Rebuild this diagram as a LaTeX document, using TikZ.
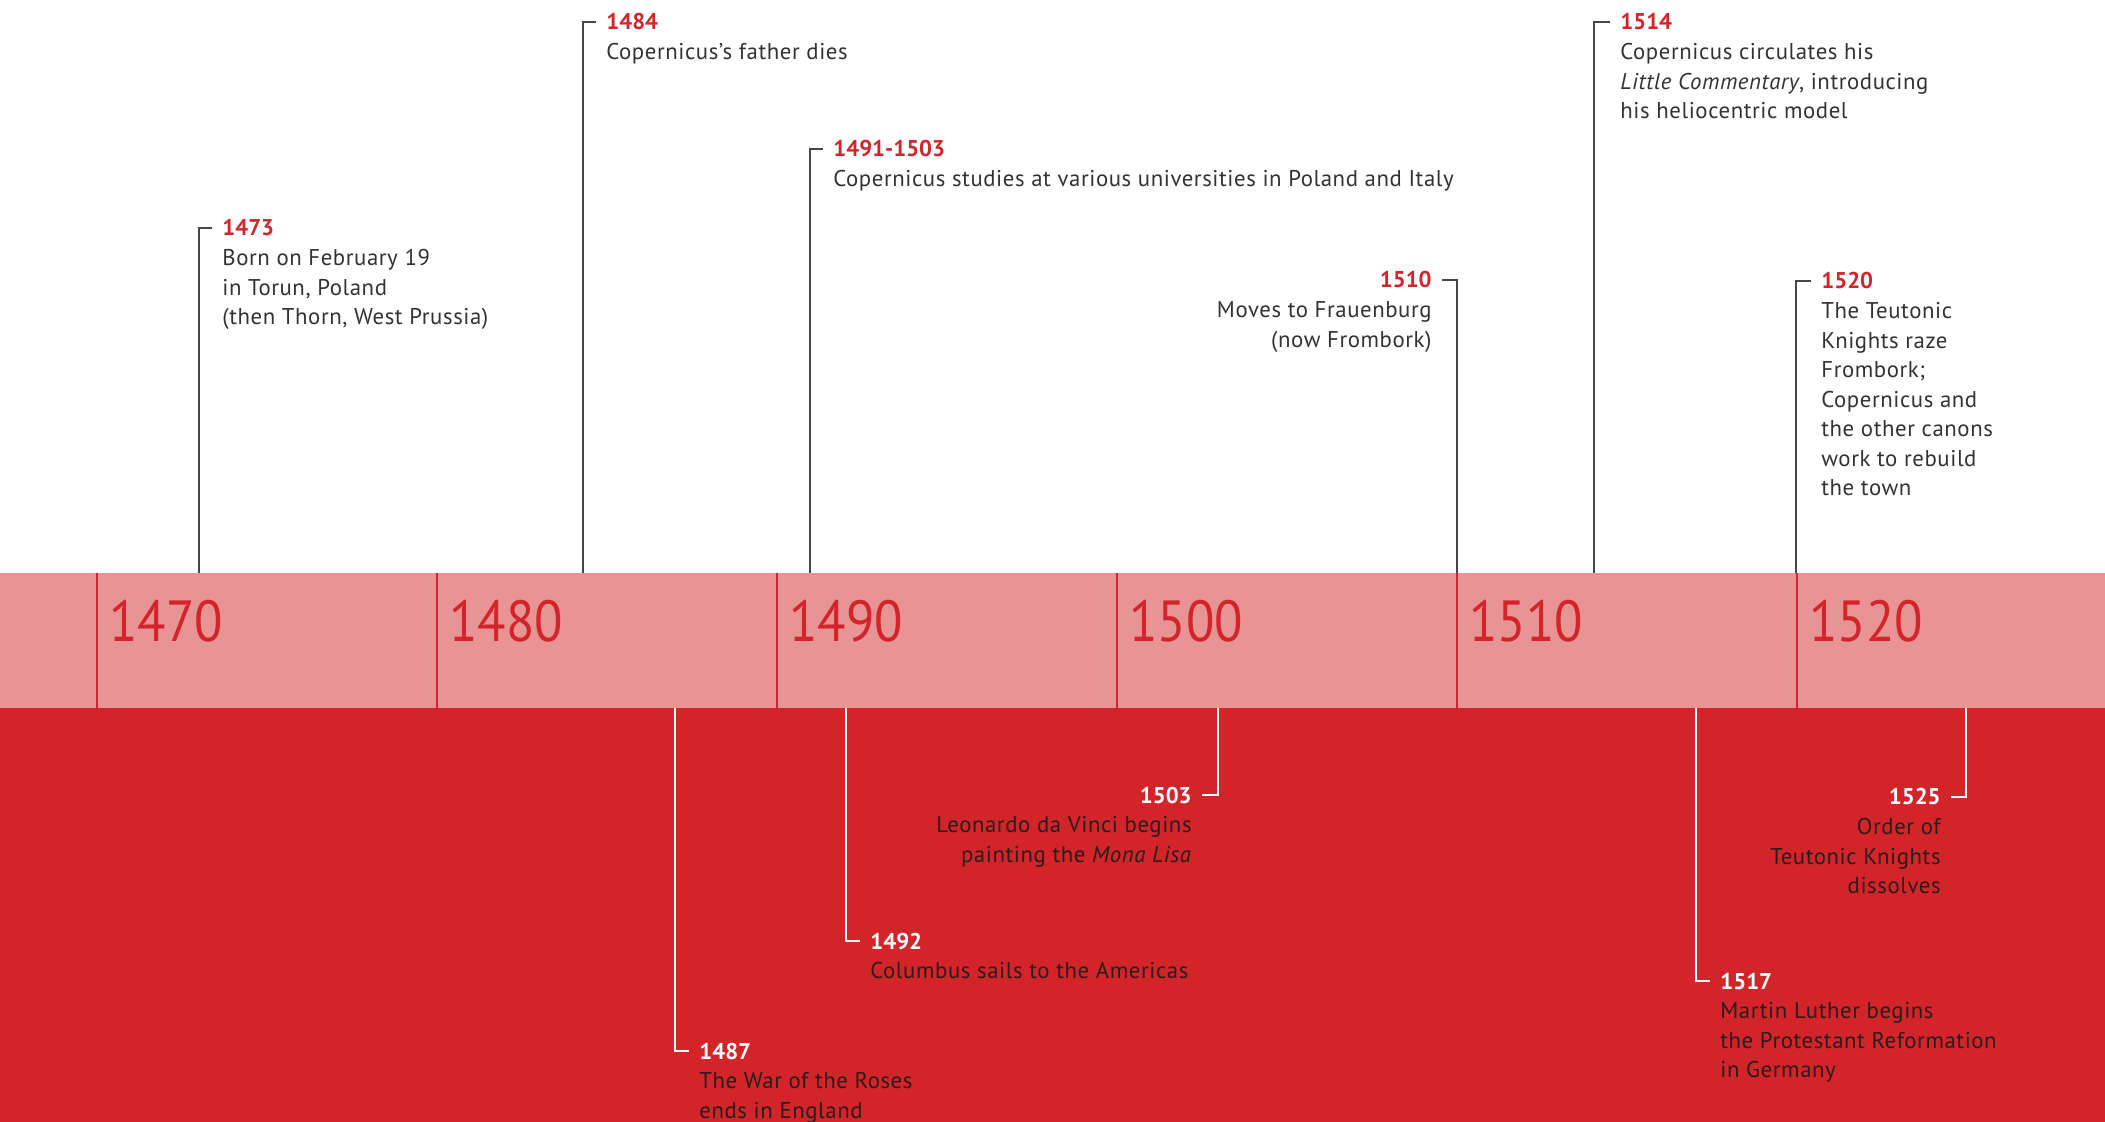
\documentclass[tikz,border=0pt]{standalone}
\usepackage{fontspec}
\setmainfont{PT Sans}
\newfontfamily\notefont{PT Sans}[LetterSpace=2.5]
\newfontfamily\decadefont{PT Sans}[FakeStretch=0.9]
\usetikzlibrary{positioning}
\definecolor{bandred}{RGB}{211,36,42}
\definecolor{bandpink}{RGB}{232,147,148}
\definecolor{leadgray}{RGB}{70,70,70}
\definecolor{notegray}{RGB}{50,50,50}
\definecolor{notedark}{RGB}{42,28,28}

\begin{document}
\begin{tikzpicture}[
  x=0.5pt, y=0.5pt,
  font=\fontsize{11.4}{14.75}\selectfont,
  decade/.style={inner sep=0pt, anchor=base west, text=bandred,
    font=\decadefont\fontsize{29}{30}\selectfont},
  decline/.style={draw=bandred, line width=1pt},
  yrup/.style={inner sep=0pt, anchor=base west, text=bandred, font=\fontsize{11.4}{14.75}\selectfont\bfseries},
  yrdown/.style={yrup, text=white},
  note/.style={inner sep=0pt, align=left, anchor=north west, text=notegray,
    font=\notefont\fontsize{11.4}{14.75}\selectfont},
  notedown/.style={note, text=notedark},
  lead/.style={draw=leadgray, line width=0.7pt},
  leadw/.style={draw=white, line width=0.7pt}
]
\useasboundingbox (0,0) rectangle (2105,-1122);
\fill[bandpink] (0,-573) rectangle (2105,-708);
\fill[bandred] (0,-708) rectangle (2105,-1122);

% decades on the band
\draw[decline] (97,-573) -- (97,-708);
\draw[decline] (437,-573) -- (437,-708);
\draw[decline] (777,-573) -- (777,-708);
\draw[decline] (1117,-573) -- (1117,-708);
\draw[decline] (1457,-573) -- (1457,-708);
\draw[decline] (1797,-573) -- (1797,-708);
\node[decade] (d1470) at (109,-642) {1470};
\node[decade] (d1480) at (449,-642) {1480};
\node[decade] (d1490) at (789,-642) {1490};
\node[decade] (d1500) at (1129,-642) {1500};
\node[decade] (d1510) at (1469,-642) {1510};
\node[decade] (d1520) at (1809,-642) {1520};

% feet of the leaders
\coordinate (c1473) at (199,-573);
\coordinate (c1484) at (583,-573);
\coordinate (c1491) at (810,-573);
\coordinate (c1510) at (1457,-573);
\coordinate (c1514) at (1594,-573);
\coordinate (c1520) at (1796,-573);
\coordinate (c1487) at (675,-708);
\coordinate (c1492) at (846,-708);
\coordinate (c1503) at (1218,-708);
\coordinate (c1517) at (1696,-708);
\coordinate (c1525) at (1966,-708);

% events above
\node[yrup] (y1473) at (222,-236) {1473};
\node[note] (b1473) at ([yshift=-6.6pt]y1473.base west) {Born on February 19\\in Torun, Poland\\(then Thorn, West Prussia)};
\node[yrup] (y1484) at (606,-30) {1484};
\node[note] (b1484) at ([yshift=-6.6pt]y1484.base west) {Copernicus’s father dies};
\node[yrup] (y1491) at (833,-157) {1491-1503};
\node[note] (b1491) at ([yshift=-6.6pt]y1491.base west) {Copernicus studies at various universities in Poland and Italy};
\node[yrup, anchor=base east] (y1510) at (1432,-288) {1510};
\node[note, align=right, anchor=north east] (b1510) at ([yshift=-6.6pt]y1510.base east) {Moves to Frauenburg\\(now Frombork)};
\node[yrup] (y1514) at (1620,-30) {1514};
\node[note] (b1514) at ([yshift=-6.6pt]y1514.base west) {Copernicus circulates his\\\textit{Little Commentary}, introducing\\his heliocentric model};
\node[yrup] (y1520) at (1821,-289) {1520};
\node[note] (b1520) at ([yshift=-6.6pt]y1520.base west) {The Teutonic\\Knights raze\\Frombork;\\Copernicus and\\the other canons\\work to rebuild\\the town};

\draw[lead] (c1473) |- ([xshift=-5pt]y1473.west);
\draw[lead] (c1484) |- ([xshift=-5pt]y1484.west);
\draw[lead] (c1491) |- ([xshift=-5pt]y1491.west);
\draw[lead] (c1510) |- ([xshift=5pt]y1510.east);
\draw[lead] (c1514) |- ([xshift=-5pt]y1514.west);
\draw[lead] (c1520) |- ([xshift=-5pt]y1520.west);

% events below
\node[yrdown] (y1487) at (699,-1059) {1487};
\node[notedown] (b1487) at ([yshift=-6.6pt]y1487.base west) {The War of the Roses\\ends in England};
\node[yrdown] (y1492) at (870,-949) {1492};
\node[notedown] (b1492) at ([yshift=-6.6pt]y1492.base west) {Columbus sails to the Americas};
\node[yrdown, anchor=base east] (y1503) at (1192,-803) {1503};
\node[notedown, align=right, anchor=north east] (b1503) at ([yshift=-6.6pt]y1503.base east) {Leonardo da Vinci begins\\painting the \textit{Mona Lisa}};
\node[yrdown] (y1517) at (1720,-989) {1517};
\node[notedown] (b1517) at ([yshift=-6.6pt]y1517.base west) {Martin Luther begins\\the Protestant Reformation\\in Germany};
\node[yrdown, anchor=base east] (y1525) at (1941,-805) {1525};
\node[notedown, align=right, anchor=north east] (b1525) at ([yshift=-6.6pt]y1525.base east) {Order of\\Teutonic Knights\\dissolves};

\draw[leadw] (c1487) |- ([xshift=-5pt]y1487.west);
\draw[leadw] (c1492) |- ([xshift=-5pt]y1492.west);
\draw[leadw] (c1503) |- ([xshift=5pt]y1503.east);
\draw[leadw] (c1517) |- ([xshift=-5pt]y1517.west);
\draw[leadw] (c1525) |- ([xshift=5pt]y1525.east);
\end{tikzpicture}
\end{document}
